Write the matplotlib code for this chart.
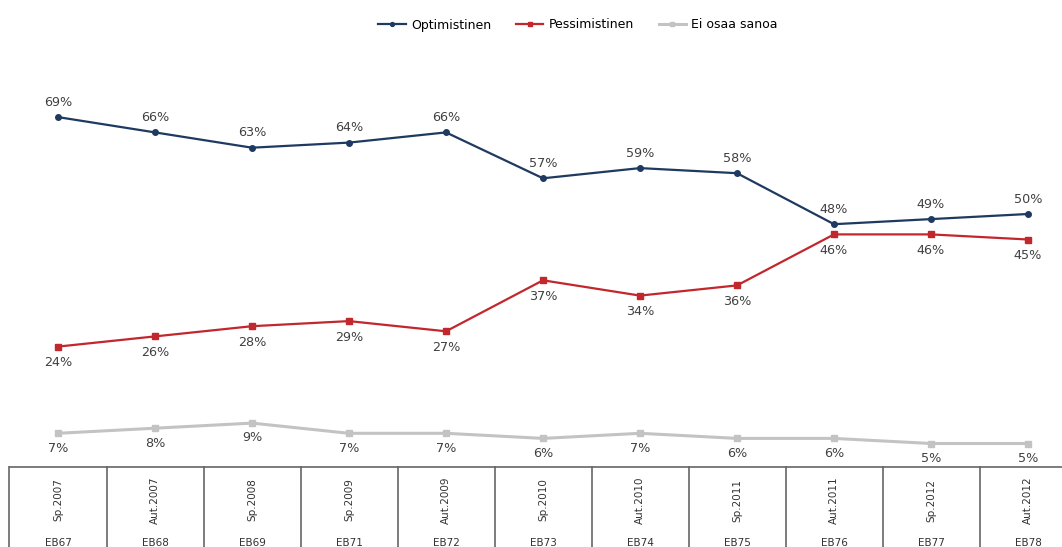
import matplotlib.pyplot as plt

# Data
periods = ['Sp.2007', 'Aut.2007', 'Sp.2008', 'Sp.2009', 'Aut.2009', 'Sp.2010',
           'Aut.2010', 'Sp.2011', 'Aut.2011', 'Sp.2012', 'Aut.2012']
surveys = ['EB67', 'EB68', 'EB69', 'EB71', 'EB72', 'EB73',
           'EB74', 'EB75', 'EB76', 'EB77', 'EB78']
optimistinen = [69, 66, 63, 64, 66, 57, 59, 58, 48, 49, 50]
pessimistinen = [24, 26, 28, 29, 27, 37, 34, 36, 46, 46, 45]
ei_osaa = [7, 8, 9, 7, 7, 6, 7, 6, 6, 5, 5]

W, H = 1062, 547
fig = plt.figure(figsize=(W / 100, H / 100), dpi=100)

x = list(range(len(periods)))
x0, step = 58, 97  # pixel position of first point, spacing
xlim = (-x0 / step, (W - x0) / step)

# main plot area: y=0 at pixel 469 from top
ax = fig.add_axes([0, (H - 469) / H, 1, 469 / H])
ax.set_xlim(*xlim)
ax.set_ylim(0, 469 / 5.1)
ax.axis('off')

c_opt, c_pes, c_ei = '#1f3a60', '#c1272d', '#c3c3c3'
txt = '#404040'

ax.plot(x, optimistinen, color=c_opt, lw=1.6, marker='o', ms=4, label='Optimistinen')
ax.plot(x, pessimistinen, color=c_pes, lw=1.6, marker='s', ms=4, label='Pessimistinen')
ax.plot(x, ei_osaa, color=c_ei, lw=2.2, marker='s', ms=5, label='Ei osaa sanoa')

for xi, v in zip(x, optimistinen):
    ax.annotate(f'{v}%', (xi, v), xytext=(0, 6), textcoords='offset points',
                ha='center', va='bottom', fontsize=9.2, color=txt)
for xi, v in zip(x, pessimistinen):
    ax.annotate(f'{v}%', (xi, v), xytext=(0, -7), textcoords='offset points',
                ha='center', va='top', fontsize=9.2, color=txt)
for xi, v in zip(x, ei_osaa):
    ax.annotate(f'{v}%', (xi, v), xytext=(0, -6), textcoords='offset points',
                ha='center', va='top', fontsize=9.2, color=txt)

fig.legend(loc='center', bbox_to_anchor=(578 / W, 1 - 25 / H), ncol=3,
           frameon=False, fontsize=9, handlelength=2.2, columnspacing=2.0,
           handletextpad=0.4, markerscale=0.7)

# table below the plot
tb_top = 466
tax = fig.add_axes([0, 0, 1, (H - tb_top) / H])
tax.set_xlim(*xlim)
tax.set_ylim(0, H - tb_top)
tax.axis('off')
tax.axhline(H - tb_top - 0.5, xmin=10 / W, xmax=1, color='#666666', lw=1.2)
for i in range(len(periods)):
    tax.plot([i - 0.5, i - 0.5], [0, H - tb_top], color='#666666', lw=1.2)
    tax.text(i, H - 500, periods[i], rotation=90, ha='center', va='center',
             fontsize=7.5, color='#333333')
    tax.text(i, H - 543, surveys[i], ha='center', va='center',
             fontsize=7.5, color='#333333')

fig.savefig('out.png', dpi=100)
